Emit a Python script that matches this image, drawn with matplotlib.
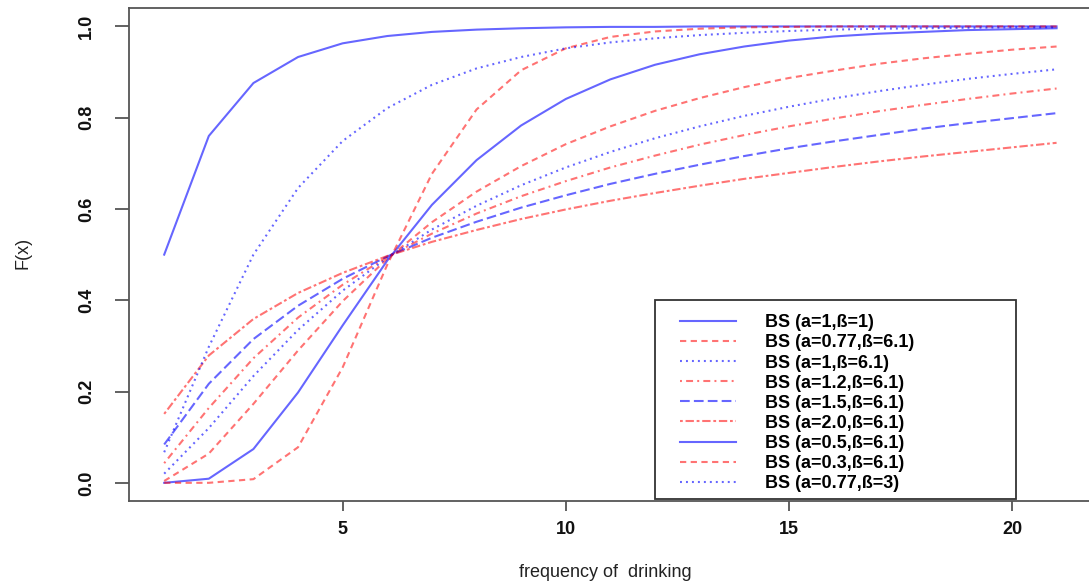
import matplotlib
matplotlib.use('Agg')
import matplotlib.pyplot as plt
from matplotlib.patches import Rectangle

plt.rcParams['font.family'] = ['Liberation Sans', 'DejaVu Sans']
plt.rcParams['lines.scale_dashes'] = False

# drinking frequency grid and Birnbaum-Saunders CDF values at each point
freq = list(range(1, 22))

cdf_a1_b1 = [0.500, 0.760, 0.876, 0.933, 0.963, 0.979, 0.988, 0.993, 0.996, 0.998, 0.999,
             0.999, 1.000, 1.000, 1.000, 1.000, 1.000, 1.000, 1.000, 1.000, 1.000]
cdf_a077_b61 = [0.004, 0.064, 0.173, 0.290, 0.398, 0.491, 0.571, 0.638, 0.694, 0.742, 0.781,
                0.815, 0.843, 0.867, 0.887, 0.903, 0.918, 0.930, 0.940, 0.949, 0.956]
cdf_a1_b61 = [0.020, 0.120, 0.234, 0.335, 0.421, 0.493, 0.555, 0.607, 0.652, 0.691, 0.725,
              0.755, 0.781, 0.804, 0.824, 0.842, 0.858, 0.872, 0.885, 0.896, 0.906]
cdf_a12_b61 = [0.043, 0.164, 0.273, 0.362, 0.434, 0.495, 0.546, 0.590, 0.628, 0.661, 0.691,
               0.717, 0.741, 0.762, 0.781, 0.798, 0.814, 0.828, 0.841, 0.853, 0.864]
cdf_a15_b61 = [0.084, 0.217, 0.315, 0.388, 0.447, 0.496, 0.537, 0.572, 0.603, 0.630, 0.655,
               0.677, 0.697, 0.716, 0.733, 0.748, 0.762, 0.776, 0.788, 0.799, 0.810]
cdf_a20_b61 = [0.151, 0.279, 0.359, 0.416, 0.460, 0.497, 0.528, 0.554, 0.578, 0.599, 0.618,
               0.635, 0.651, 0.666, 0.679, 0.692, 0.704, 0.715, 0.725, 0.735, 0.745]
cdf_a05_b61 = [0.000, 0.009, 0.074, 0.198, 0.345, 0.487, 0.609, 0.707, 0.783, 0.841, 0.884,
               0.916, 0.939, 0.956, 0.969, 0.978, 0.984, 0.988, 0.992, 0.994, 0.996]
cdf_a03_b61 = [0.000, 0.000, 0.008, 0.078, 0.253, 0.478, 0.677, 0.818, 0.904, 0.952, 0.977,
               0.989, 0.995, 0.998, 0.999, 1.000, 1.000, 1.000, 1.000, 1.000, 1.000]
cdf_a077_b3 = [0.067, 0.298, 0.500, 0.646, 0.749, 0.821, 0.872, 0.908, 0.933, 0.952, 0.965,
               0.974, 0.981, 0.986, 0.990, 0.993, 0.995, 0.996, 0.997, 0.998, 0.998]

curves = [cdf_a1_b1, cdf_a077_b61, cdf_a1_b61, cdf_a12_b61, cdf_a15_b61,
          cdf_a20_b61, cdf_a05_b61, cdf_a03_b61, cdf_a077_b3]
labels = ['BS (a=1,ß=1)', 'BS (a=0.77,ß=6.1)', 'BS (a=1,ß=6.1)', 'BS (a=1.2,ß=6.1)',
          'BS (a=1.5,ß=6.1)', 'BS (a=2.0,ß=6.1)', 'BS (a=0.5,ß=6.1)', 'BS (a=0.3,ß=6.1)',
          'BS (a=0.77,ß=3)']

BLUE = (0.0, 0.0, 1.0, 0.6)
RED = (1.0, 0.0, 0.0, 0.55)
colors = [BLUE, RED, BLUE, RED, BLUE, RED, BLUE, RED, BLUE]

# R-like line types: solid, dashed, dotted, dotdash, longdash, twodash
SOLID = '-'
DASHED = (0, (4.5, 3.2))
DOTTED = (0, (1.4, 2.9))
DOTDASH = (0, (1.4, 3, 5, 3))
LONGDASH = (0, (7, 3))
TWODASH = (0, (2, 2, 6, 2))
styles = [SOLID, DASHED, DOTTED, DOTDASH, LONGDASH, TWODASH, SOLID, DASHED, DOTTED]

fig = plt.figure(figsize=(10.89, 5.84), dpi=100)
ax = fig.add_axes([0.118, 0.142, 0.885, 0.844])

for values, lab, col, ls in zip(curves, labels, colors, styles):
    ax.plot(freq, values, color=col, linestyle=ls, linewidth=1.5, label=lab)

ax.set_xlim(0.2, 21.8)
ax.set_ylim(-0.04, 1.04)
ax.set_xticks([5, 10, 15, 20])
ax.set_yticks([0.0, 0.2, 0.4, 0.6, 0.8, 1.0])
ax.set_yticklabels(['0.0', '0.2', '0.4', '0.6', '0.8', '1.0'], rotation=90, va='center')

for sp in ax.spines.values():
    sp.set_color('#555555')
    sp.set_linewidth(1.3)
ax.tick_params(axis='both', direction='out', color='#555555', width=1.3,
               labelsize=13, labelcolor='#111111')
ax.tick_params(axis='x', length=7, pad=7)
ax.tick_params(axis='y', length=10, pad=14)
for t in ax.get_xticklabels() + ax.get_yticklabels():
    t.set_fontweight('bold')

ax.set_xlabel('frequency of  drinking', fontsize=13, color='#222222', va='center')
ax.xaxis.set_label_coords(0.495, -0.144)
ax.set_ylabel('F(x)', fontsize=13, color='#222222', va='center')
ax.yaxis.set_label_coords(-0.109, 0.503)

# legend box, top-left corner at (12, 0.4)
ax.add_patch(Rectangle((12, -0.036), 8.1, 0.436, fill=False, edgecolor='#333333',
                       linewidth=1.3, zorder=3))
ax.legend(loc='upper left', bbox_to_anchor=(12.57, 0.369), bbox_transform=ax.transData,
          frameon=False, borderpad=0, borderaxespad=0, handlelength=3.1,
          handletextpad=1.6, labelspacing=0.17,
          prop={'size': 13, 'weight': 'bold'})

fig.savefig('out.png', dpi=100)
